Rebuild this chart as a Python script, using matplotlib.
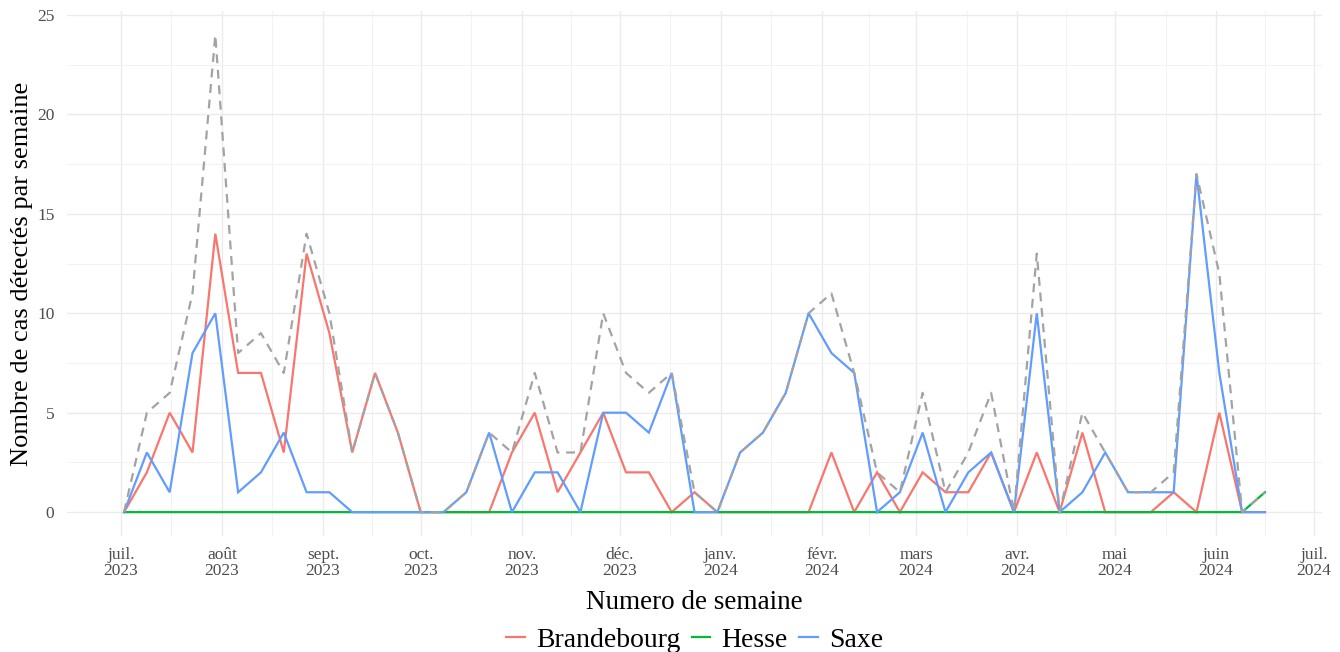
import numpy as np
import pandas as pd
import matplotlib
matplotlib.use("Agg")
import matplotlib.pyplot as plt
import matplotlib.dates as mdates
from matplotlib.lines import Line2D

plt.rcParams['font.family'] = ['Liberation Serif', 'DejaVu Serif']

# weekly counts, one value per week starting 2023-07-02
weeks = pd.date_range("2023-07-02", periods=51, freq="7D")

brandebourg = [0, 2, 5, 3, 14, 7, 7, 3, 13, 9, 3, 7, 4, 0, 0, 0, 0, 3, 5, 1,
               3, 5, 2, 2, 0, 1, 0, 0, 0, 0, 0, 3, 0, 2, 0, 2, 1, 1, 3, 0,
               3, 0, 4, 0, 0, 0, 1, 0, 5, 0, 0]
hesse = [0] * 50 + [1]
saxe = [0, 3, 1, 8, 10, 1, 2, 4, 1, 1, 0, 0, 0, 0, 0, 1, 4, 0, 2, 2,
        0, 5, 5, 4, 7, 0, 0, 3, 4, 6, 10, 8, 7, 0, 1, 4, 0, 2, 3, 0,
        10, 0, 1, 3, 1, 1, 1, 17, 7, 0, 0]
total = [0, 5, 6, 11, 24, 8, 9, 7, 14, 10, 3, 7, 4, 0, 0, 1, 4, 3, 7, 3,
         3, 10, 7, 6, 7, 1, 0, 3, 4, 6, 10, 11, 7, 2, 1, 6, 1, 3, 6, 0,
         13, 0, 5, 3, 1, 1, 2, 17, 12, 0, 1]

series_names = ["Brandebourg", "Hesse", "Saxe"]
series_colors = ["#F8766D", "#00BA38", "#619CFF"]

tick_dates = pd.date_range("2023-07-01", "2024-07-01", freq="MS")
tick_labels = ["juil.\n2023", "août\n2023", "sept.\n2023", "oct.\n2023",
               "nov.\n2023", "déc.\n2023", "janv.\n2024", "févr.\n2024",
               "mars\n2024", "avr.\n2024", "mai\n2024", "juin\n2024",
               "juil.\n2024"]

fig = plt.figure(figsize=(13.4, 6.52), dpi=100)
ax = fig.add_axes([67 / 1340, 1 - 536 / 652, (1322 - 67) / 1340, (536 - 11) / 652])

for name, vals, col in zip(series_names, [brandebourg, hesse, saxe], series_colors):
    ax.plot(weeks, vals, color=col, lw=1.6, label=name, solid_joinstyle="miter", zorder=3)
ax.plot(weeks, total, color="#A3A3A3", lw=1.6, dashes=(4, 3), zorder=4)

# x range with 5% padding like ggplot
span = weeks[-1] - weeks[0]
ax.set_xlim(weeks[0] - span * 0.05, weeks[-1] + span * 0.05)
ax.set_ylim(-1.2, 25.2)

ax.set_xticks(mdates.date2num(tick_dates))
ax.set_xticklabels(tick_labels, linespacing=1.0)
mids = mdates.date2num(tick_dates[:-1]) + np.diff(mdates.date2num(tick_dates)) / 2
ax.set_xticks(mids, minor=True)
ax.set_yticks([0, 5, 10, 15, 20, 25])
ax.set_yticks([2.5, 7.5, 12.5, 17.5, 22.5], minor=True)

ax.grid(which="major", color="#EBEBEB", lw=1.0)
ax.grid(which="minor", color="#F2F2F2", lw=0.7)
ax.set_axisbelow(True)
for s in ax.spines.values():
    s.set_visible(False)
ax.tick_params(which="both", length=0)
ax.tick_params(axis="x", labelsize=12.5, labelcolor="#4D4D4D", pad=8)
ax.tick_params(axis="y", labelsize=12.5, labelcolor="#4D4D4D", pad=9)

ax.set_xlabel("Numero de semaine", fontsize=19.5, labelpad=8)
ax.set_ylabel("Nombre de cas détectés par semaine", fontsize=19, labelpad=3)

handles = [Line2D([], [], color=c, lw=1.6) for c in series_colors]
fig.legend(handles, series_names, loc="center", bbox_to_anchor=(694.5 / 1340, 1 - 640 / 652),
           ncol=3, frameon=False, fontsize=20, handlelength=0.68, handletextpad=0.4,
           columnspacing=0.4, borderpad=0, borderaxespad=0)

fig.savefig("out.png", dpi=100)
